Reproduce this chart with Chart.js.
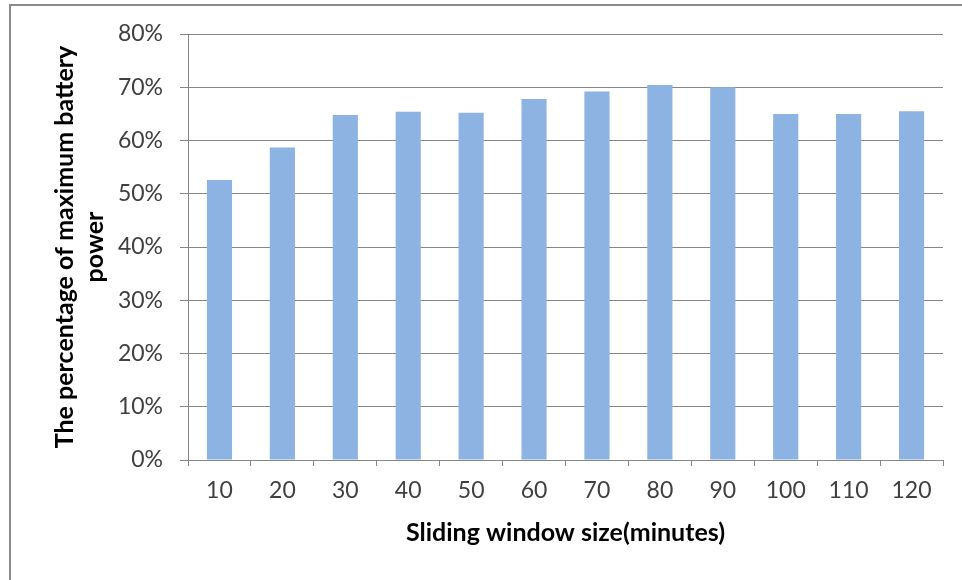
<!DOCTYPE html>
<html>
<head>
<meta charset="utf-8">
<script src="https://cdn.jsdelivr.net/npm/chart.js@4"></script>
<style>
  html, body { margin: 0; padding: 0; background: #ffffff; overflow: hidden; }
  #wrap { position: relative; width: 962px; height: 580px; }
  #frame { position: absolute; left: 9px; top: 4px; width: 1200px; height: 1200px;
           border-top: 2px solid #8a8a8a; border-left: 2px solid #8a8a8a; }
  canvas { position: absolute; left: 0; top: 0; }
</style>
</head>
<body>
<div id="wrap">
  <div id="frame"></div>
  <canvas id="chart" width="962" height="580"></canvas>
</div>
<script>
// Sliding window size in minutes
const windowSizes = ['10', '20', '30', '40', '50', '60', '70', '80', '90', '100', '110', '120'];
// Percentage of maximum battery power reached for each window size
const batteryPercent = [52.6, 58.7, 64.8, 65.4, 65.2, 67.8, 69.2, 70.4, 70.0, 65.0, 65.0, 65.5];
// Y axis range and step (percent)
const yMax = 80;
const yStep = 10;

const xTitle = 'Sliding window size(minutes)';
const yTitle = ['The percentage of maximum battery', 'power'];

const axisColor = '#868686';
const tickColor = '#404040';

new Chart(document.getElementById('chart'), {
  type: 'bar',
  data: {
    labels: windowSizes,
    datasets: [{
      data: batteryPercent,
      backgroundColor: '#8db3e2',
      borderWidth: 0,
      barPercentage: 0.4,
      categoryPercentage: 1.0
    }]
  },
  options: {
    responsive: false,
    animation: false,
    plugins: { legend: { display: false }, tooltip: { enabled: false } },
    layout: { padding: { left: 0, top: 34, right: 19, bottom: 0 } },
    scales: {
      x: {
        grid: { offset: true, drawOnChartArea: false, drawTicks: true, tickLength: 6, color: axisColor },
        border: { color: axisColor, width: 1 },
        ticks: { color: tickColor, font: { family: 'Lato', size: 23 }, padding: 11, maxRotation: 0 },
        title: { display: true, text: xTitle, color: '#000000',
                 font: { family: 'Lato', size: 25, weight: 'bold', lineHeight: 1.2 },
                 padding: { top: 0, bottom: 32 } },
        afterFit: s => { s.height = 120; }
      },
      y: {
        min: 0, max: yMax,
        grid: { color: axisColor, tickLength: 8, lineWidth: 1 },
        border: { color: axisColor, width: 1 },
        ticks: { stepSize: yStep, color: tickColor, font: { family: 'Lato', size: 23 }, padding: 17,
                 callback: v => v + '%' },
        title: { display: true, text: yTitle, color: '#000000',
                 font: { family: 'Lato', size: 25, weight: 'bold', lineHeight: 1.2 },
                 padding: { top: 50, bottom: 0 } },
        afterFit: s => { s.width = 188; }
      }
    }
  }
});
</script>
</body>
</html>
